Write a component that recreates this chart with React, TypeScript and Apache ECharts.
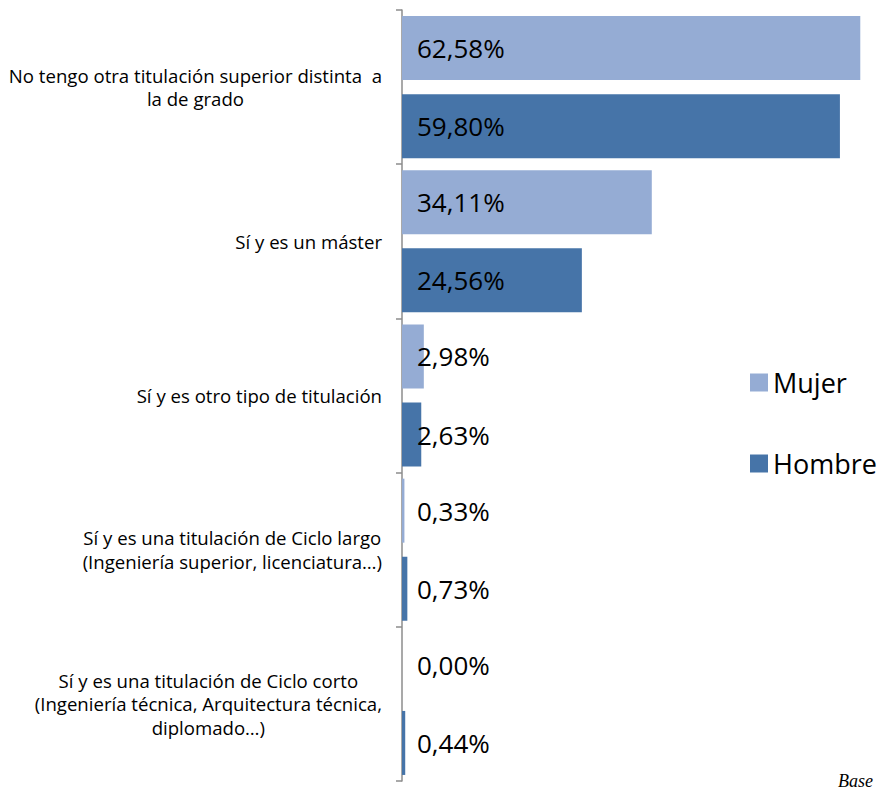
import React, { useEffect, useRef } from "react";
import * as echarts from "echarts";

const categories: string[] = [
  "No tengo otra titulación superior distinta  a\nla de grado",
  "Sí y es un máster",
  "Sí y es otro tipo de titulación",
  "Sí y es una titulación de Ciclo largo\n(Ingeniería superior, licenciatura…)",
  "Sí y es una titulación de Ciclo corto\n(Ingeniería técnica, Arquitectura técnica,\ndiplomado…)",
];
const mujer: number[] = [62.58, 34.11, 2.98, 0.33, 0.0];
const hombre: number[] = [59.8, 24.56, 2.63, 0.73, 0.44];
const seriesNames: string[] = ["Mujer", "Hombre"];

const FONT = "'Open Sans', 'Noto Sans', sans-serif";

export default function App() {
  const ref = useRef<HTMLDivElement>(null);
  useEffect(() => {
    if (!ref.current) return;
    const chart = echarts.init(ref.current, undefined, { renderer: "svg" });
    const fmt = (v: number) => v.toFixed(2).replace(".", ",") + "%";
    const label = {
      show: true,
      position: "insideLeft",
      distance: 15,
      color: "#000",
      fontSize: 26,
      fontFamily: FONT,
      formatter: (p: any) => fmt(p.value),
    };
    chart.setOption({
      animation: false,
      backgroundColor: "#fff",
      grid: { left: 402, right: 0, top: 10, bottom: 13, containLabel: false },
      legend: {
        orient: "vertical",
        left: 745,
        top: 364,
        itemWidth: 18,
        itemHeight: 18,
        itemGap: 54,
        itemTextGap: 10,
        icon: "rect",
        selectedMode: false,
        textStyle: { fontSize: 27, color: "#000", fontFamily: FONT },
        data: seriesNames,
      },
      xAxis: {
        type: "value",
        min: 0,
        max: 65,
        show: false,
        splitLine: { show: false },
      },
      yAxis: {
        type: "category",
        inverse: true,
        data: categories,
        axisLine: { show: true, lineStyle: { color: "#8c8c8c", width: 1.5 } },
        axisTick: { show: true, length: 6, lineStyle: { color: "#8c8c8c", width: 1.5 } },
        axisLabel: {
          margin: 20,
          color: "#000",
          fontSize: 18.6,
          fontFamily: FONT,
          lineHeight: 23.5,
          formatter: (v: string) =>
            v
              .split("\n")
              .map((l) => `{c|${l}}`)
              .join("\n"),
          rich: {
            c: {
              align: "center",
              fontSize: 18.6,
              fontFamily: FONT,
              lineHeight: 23.5,
              color: "#000",
            },
          },
        },
      },
      series: [
        {
          name: seriesNames[0],
          type: "bar",
          data: mujer,
          barWidth: 64,
          barGap: "22%",
          itemStyle: { color: "#95ACD4" },
          label,
        },
        {
          name: seriesNames[1],
          type: "bar",
          data: hombre,
          barWidth: 64,
          barGap: "22%",
          itemStyle: { color: "#4674A8" },
          label,
        },
      ],
      graphic: [
        {
          type: "text",
          left: 838,
          top: 772,
          style: {
            text: "Base",
            fontSize: 18,
            fontStyle: "italic",
            fontFamily: "'Liberation Serif', serif",
            fill: "#000",
          },
        },
      ],
    });
    return () => chart.dispose();
  }, []);
  return (
    <div
      ref={ref}
      style={{ position: "absolute", left: 0, top: 0, width: 878, height: 794 }}
    />
  );
}
